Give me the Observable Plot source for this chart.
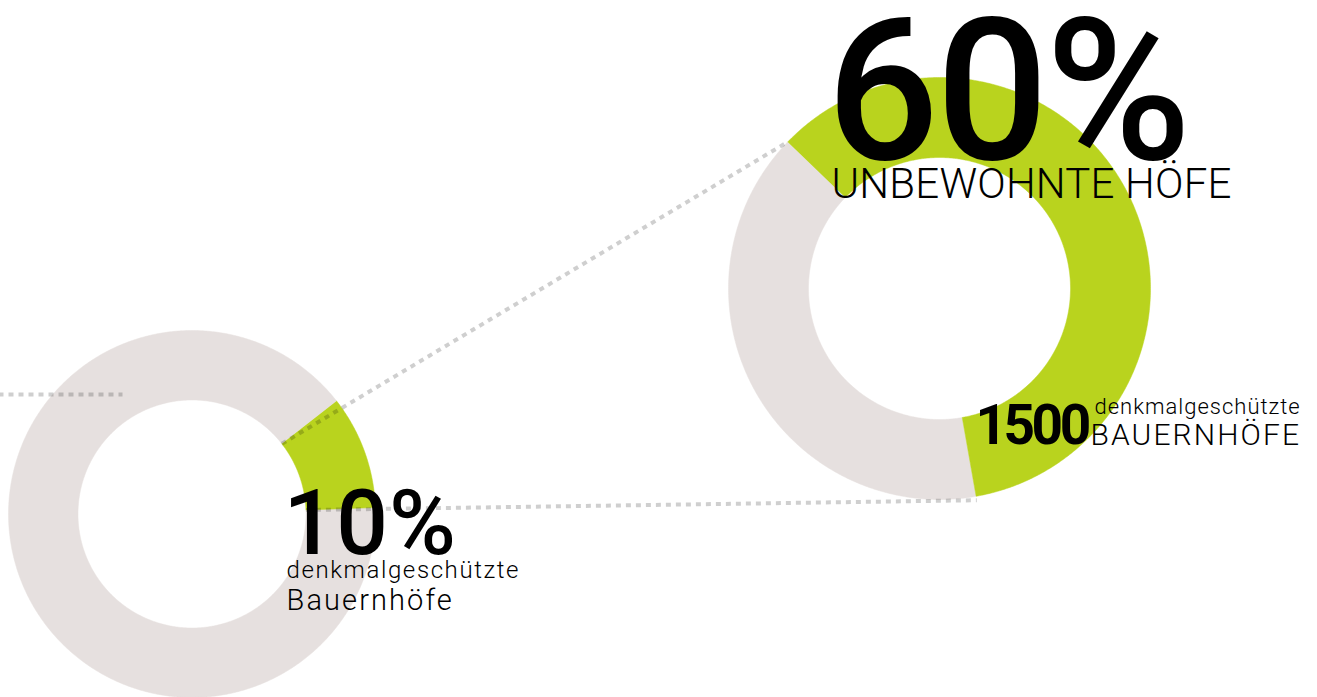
<!DOCTYPE html>
<html>
<head>
<meta charset="utf-8">
<script src="https://cdn.jsdelivr.net/npm/d3@7"></script>
<script src="https://cdn.jsdelivr.net/npm/@observablehq/plot@0.6"></script>
<style>
  html, body { margin: 0; padding: 0; background: #fff; }
  #chart svg { display: block; }
</style>
</head>
<body>
<div id="chart"></div>
<script>
// Two rings: share of listed farmhouses, and share of those that stand empty
const ringNames = ["denkmalgeschützt", "unbewohnt"];
const sharePercent = [10, 60];
const listedFarmCount = 1500;
const ringCaptionTop = ["denkmalgeschützte", "UNBEWOHNTE HÖFE"];
const ringCaptionBottom = ["Bauernhöfe", "BAUERNHÖFE"];
const countCaption = "denkmalgeschützte";

// Layout of the rings (canvas units, y grows downward)
const W = 1317, H = 697;
const ringLayout = [
  {cx: 191.5, cy: 513.5, r0: 114, r1: 183.5, start: 52},
  {cx: 939, cy: 288, r0: 131, r1: 211, start: -46}
];
const green = "#b9d31e";
const grey = "#e6e0df";

const rad = (deg) => deg * Math.PI / 180;
const polar = (L, r, deg) => ({x: L.cx + r * Math.sin(rad(deg)), y: L.cy - r * Math.cos(rad(deg))});

// Closed outline of an annular sector, from angle a0 to a1 (degrees, clockwise from north)
function sector(L, a0, a1, key) {
  const n = Math.max(2, Math.ceil(Math.abs(a1 - a0) * 2));
  const pts = [];
  for (let i = 0; i <= n; ++i) pts.push({...polar(L, L.r1, a0 + (a1 - a0) * i / n), key});
  for (let i = n; i >= 0; --i) pts.push({...polar(L, L.r0, a0 + (a1 - a0) * i / n), key});
  return pts;
}

const ringPolys = [];
const highlightPolys = [];
const ends = [];
ringNames.forEach((name, i) => {
  const L = ringLayout[i];
  const sweep = sharePercent[i] / 100 * 360;
  const a0 = L.start, a1 = L.start + sweep;
  ringPolys.push(...sector(L, a1, a0 + 360, name + "-rest"));
  highlightPolys.push(...sector(L, a0, a1, name + "-share"));
  ends.push({a0, a1});
});

// Dotted connectors between the highlighted sectors of both rings
const S = ringLayout[0], B = ringLayout[1];
const connectors = [
  {from: polar(S, S.r0, ends[0].a0), to: polar(B, B.r1, ends[1].a0)},
  {from: polar(S, S.r0, ends[0].a1), to: polar(B, B.r1 + 4, ends[1].a1)}
];
const leader = [{from: {x: -2, y: 394}, to: {x: 122, y: 394}}];

const font = "Roboto, 'Noto Sans', sans-serif";
const labels = [
  {t: sharePercent[1] + "%", x: 826, y: 158, size: 198, weight: 500, ls: -3},
  {t: ringCaptionTop[1], x: 831, y: 197, size: 42, weight: 300, ls: 0.2},
  {t: String(listedFarmCount), x: 975, y: 443, size: 55, weight: 700, ls: -3.5},
  {t: countCaption, x: 1094, y: 413, size: 22, weight: 300, ls: 1.0},
  {t: ringCaptionBottom[1], x: 1090, y: 444, size: 30, weight: 300, ls: 2.1},
  {t: sharePercent[0] + "%", x: 283, y: 553, size: 91, weight: 500, ls: 1},
  {t: ringCaptionTop[0], x: 286, y: 577, size: 24, weight: 300, ls: 1.6},
  {t: ringCaptionBottom[0], x: 286, y: 609, size: 29, weight: 300, ls: 2.1}
];

const textMarks = labels.map(d => Plot.text([d], {
  x: "x", y: "y", text: "t",
  textAnchor: "start", lineAnchor: "bottom",
  fontSize: d.size, fontWeight: d.weight, fontFamily: font,
  fill: "#000"
}));

const chart = Plot.plot({
  width: W, height: H,
  margin: 0,
  x: {domain: [0, W], range: [0, W], axis: null},
  y: {domain: [0, H], range: [0, H], axis: null},
  style: {background: "#fff", overflow: "hidden"},
  marks: [
    Plot.line(ringPolys, {x: "x", y: "y", z: "key", fill: grey, stroke: grey, strokeWidth: 0.5}),
    Plot.line(highlightPolys, {x: "x", y: "y", z: "key", fill: green, stroke: green, strokeWidth: 0.5}),
    Plot.link(connectors.concat(leader), {
      x1: d => d.from.x, y1: d => d.from.y, x2: d => d.to.x, y2: d => d.to.y,
      stroke: "#000", strokeOpacity: 0.19, strokeWidth: 4, strokeDasharray: "5,5"
    }),
    ...textMarks
  ]
});

// Text groups come out in mark order; give each its letter spacing
d3.select(chart).selectAll("g[aria-label='text']").each(function (_, i) {
  if (labels[i]) d3.select(this).attr("letter-spacing", labels[i].ls);
});

document.getElementById("chart").appendChild(chart);
</script>
</body>
</html>
